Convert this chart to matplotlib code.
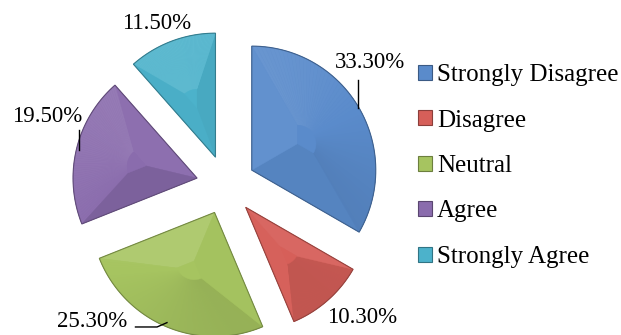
import numpy as np
import matplotlib
matplotlib.use('Agg')
import matplotlib.pyplot as plt
from matplotlib.patches import Polygon, Rectangle
from matplotlib.colors import to_rgb

# survey answers
categories = ['Strongly Disagree', 'Disagree', 'Neutral', 'Agree', 'Strongly Agree']
shares = [33.3, 10.3, 25.3, 19.5, 11.5]
colors = ['#5A8BCB', '#D65F59', '#A6C460', '#8A6CAD', '#4CB2CB']

# where the percentage labels sit (data units, pie radius = 1)
label_xy = [(1.16, 0.99), (1.10, -1.07), (-1.08, -1.10), (-1.44, 0.55), (-0.56, 1.30)]
# leader lines, None where the label has none
leaders = [[(1.065, 0.85), (1.065, 0.62)],
           None,
           [(-0.73, -1.145), (-0.556, -1.145), (-0.476, -1.11)],
           [(-1.185, 0.44), (-1.185, 0.28)],
           None]

plt.rcParams['font.family'] = ['Liberation Serif', 'DejaVu Serif']

W, H, DPI = 621, 335, 100
fig = plt.figure(figsize=(W / DPI, H / DPI), dpi=DPI)

# pie centre at (226, 185) px from top-left, radius 124 px
cx, cy, rpx = 226, H - 185, 124
xr, yr = 1.6, 1.32
ax = fig.add_axes([(cx - xr * rpx) / W, (cy - yr * rpx) / H,
                   2 * xr * rpx / W, 2 * yr * rpx / H])

explode = [0.24] * len(shares)
wedges, _ = ax.pie(shares, colors=colors, explode=explode, startangle=90,
                   counterclock=False, radius=1.0,
                   wedgeprops=dict(linewidth=0))
ax.set_xlim(-xr, xr)
ax.set_ylim(-yr, yr)
ax.set_aspect('equal')
ax.axis('off')

light = np.array([-0.55, 1.0])
light = light / np.linalg.norm(light)


def shade(base, k):
    c = np.array(to_rgb(base))
    if k >= 0:
        return tuple(c + (1 - c) * k)
    return tuple(c * (1 + k))


# bevelled facets drawn over each wedge
for w, base in zip(wedges, colors):
    c0 = np.array(w.center)
    t1, t2 = w.theta1, w.theta2
    ts = np.radians(np.linspace(t1, t2, 60))
    arc = np.column_stack([c0[0] + w.r * np.cos(ts), c0[1] + w.r * np.sin(ts)])
    pts = np.vstack([c0, arc])
    n = len(pts)
    mid = np.radians((t1 + t2) / 2)
    inner = c0 + 0.5 * w.r * np.array([np.cos(mid), np.sin(mid)])
    s = 0.15
    q = inner + s * (pts - inner)
    # polygon is counter-clockwise, outward normal is (dy, -dx)
    for i in range(n):
        j = (i + 1) % n
        d = pts[j] - pts[i]
        nrm = np.array([d[1], -d[0]])
        ln = np.linalg.norm(nrm)
        if ln == 0:
            continue
        nrm /= ln
        k = 0.10 * float(nrm @ light)
        col = shade(base, k)
        ax.add_patch(Polygon([pts[i], pts[j], q[j], q[i]], closed=True,
                             facecolor=col, edgecolor=col,
                             linewidth=0.3, zorder=3))
    ax.add_patch(Polygon(q, closed=True, facecolor=shade(base, 0.0),
                         edgecolor=shade(base, 0.0), linewidth=0.3, zorder=3))
    # darker rim
    ax.add_patch(Polygon(pts, closed=True, facecolor='none',
                         edgecolor=shade(base, -0.3), linewidth=0.8, zorder=4))

# percentage labels
for v, (tx, ty), ld in zip(shares, label_xy, leaders):
    ax.text(tx, ty, f'{v:.2f}%', ha='center', va='center', fontsize=16.5, zorder=5)
    if ld is not None:
        xs, ys = zip(*ld)
        ax.plot(xs, ys, color='black', linewidth=1.0, zorder=5)

# legend
handles = [Rectangle((0, 0), 1, 1, facecolor=c, edgecolor=shade(c, -0.35), linewidth=0.8)
           for c in colors]
fig.legend(handles, categories, loc='center left', bbox_to_anchor=(418 / W, 1 - 166 / H),
           frameon=False, fontsize=18, handlelength=0.55, handleheight=0.55,
           handletextpad=0.2, labelspacing=0.94, borderaxespad=0, borderpad=0)

fig.savefig('out.png', dpi=DPI)
